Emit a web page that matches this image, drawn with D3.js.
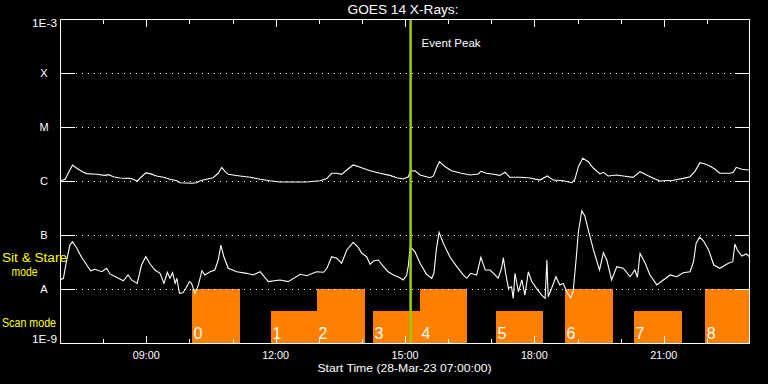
<!DOCTYPE html>
<html><head><meta charset="utf-8">
<script src="https://cdn.jsdelivr.net/npm/d3@7"></script>
<style>html,body{margin:0;padding:0;background:#000;}svg{display:block}</style>
</head><body>
<svg id="chart" width="768" height="384"></svg>
<script>
// ---------- data ----------
const chartTitle = "GOES 14 X-Rays:";
const xAxisTitle = "Start Time (28-Mar-23 07:00:00)";
const timeDomain = [7, 23];                       // hours of 28-Mar-23
const hourTicks = [8,9,10,11,12,13,14,15,16,17,18,19,20,21,22];
const labeledHours = [9, 12, 15, 18, 21];
const hourLabels = ["09:00", "12:00", "15:00", "18:00", "21:00"];
const fluxLevels = [1e-9, 1e-8, 1e-7, 1e-6, 1e-5, 1e-4, 1e-3];
const fluxLabels = ["1E-9", "A", "B", "C", "M", "X", "1E-3"];
const eventPeakHour = 15.13;
const eventLabel = "Event Peak";

const scanIds    = [0, 1, 2, 3, 4, 5, 6, 7, 8];
const scanStart  = [10.06, 11.89, 12.96, 14.26, 15.35, 17.11, 18.71, 20.31, 21.96];
const scanEnd    = [11.17, 12.96, 14.07, 15.35, 16.44, 18.20, 19.82, 21.42, 23.06];
const scanHeight = [1, 0.6, 1, 0.6, 1, 0.6, 1, 0.6, 1];

// [hour, flux W/m^2]  long channel (1-8 A)
const longChannel = [
 [7.00,1.01e-6],[7.12,1.08e-6],[7.19,1.39e-6],[7.29,1.98e-6],[7.39,1.72e-6],[7.54,1.45e-6],
 [7.62,1.37e-6],[7.85,1.33e-6],[8.04,1.27e-6],[8.12,1.31e-6],[8.24,1.20e-6],[8.39,1.14e-6],
 [8.62,1.12e-6],[8.70,1.08e-6],[8.79,0.99e-6],[8.89,1.20e-6],[8.99,1.41e-6],[9.09,1.37e-6],
 [9.24,1.24e-6],[9.40,1.17e-6],[9.55,1.08e-6],[9.71,1.01e-6],[9.78,0.93e-6],[10.05,0.91e-6],
 [10.17,0.93e-6],[10.25,1.01e-6],[10.40,1.08e-6],[10.55,1.15e-6],[10.67,1.39e-6],[10.75,1.79e-6],
 [10.83,1.49e-6],[10.90,1.33e-6],[11.17,1.24e-6],[11.41,1.17e-6],[11.64,1.08e-6],[11.87,1.01e-6],
 [12.10,0.96e-6],[12.41,0.96e-6],[12.72,0.96e-6],[13.03,1.01e-6],[13.18,1.10e-6],[13.30,1.39e-6],
 [13.42,1.39e-6],[13.53,1.33e-6],[13.65,1.60e-6],[13.80,1.98e-6],[13.96,1.79e-6],[14.19,1.55e-6],
 [14.42,1.39e-6],[14.65,1.27e-6],[14.81,1.15e-6],[14.96,1.09e-6],[15.08,1.20e-6],[15.12,1.53e-6],
 [15.23,1.55e-6],[15.35,1.29e-6],[15.58,1.15e-6],[15.66,1.24e-6],[15.74,1.84e-6],[15.80,2.28e-6],
 [15.93,1.84e-6],[16.08,1.55e-6],[16.28,1.41e-6],[16.51,1.29e-6],[16.70,1.35e-6],[16.76,1.51e-6],
 [16.89,1.39e-6],[17.05,1.33e-6],[17.20,1.27e-6],[17.32,1.45e-6],[17.43,1.17e-6],[17.67,1.17e-6],
 [17.90,1.14e-6],[18.13,1.04e-6],[18.30,1.24e-6],[18.44,1.04e-6],[18.67,1.01e-6],[18.87,0.93e-6],
 [18.94,1.08e-6],[19.02,1.84e-6],[19.12,2.63e-6],[19.25,2.28e-6],[19.37,1.72e-6],[19.52,1.35e-6],
 [19.60,1.45e-6],[19.71,1.24e-6],[19.91,1.29e-6],[20.06,1.24e-6],[20.29,1.17e-6],[20.45,1.49e-6],
 [20.60,1.29e-6],[20.76,1.12e-6],[20.91,1.00e-6],[21.22,1.03e-6],[21.45,1.12e-6],[21.61,1.20e-6],
 [21.72,1.49e-6],[21.84,2.18e-6],[21.96,2.06e-6],[22.07,1.90e-6],[22.19,1.65e-6],[22.30,1.39e-6],
 [22.54,1.39e-6],[22.61,1.45e-6],[22.68,1.79e-6],[22.81,1.65e-6],[22.96,1.60e-6],[23.00,1.60e-6]
];

// [hour, flux W/m^2]  short channel (0.5-4 A)
const shortChannel = [
 [7.00,1.47e-8],[7.08,1.58e-8],[7.14,2.99e-8],[7.23,6.5e-8],[7.29,7.5e-8],[7.39,5.7e-8],
 [7.50,3.86e-8],[7.62,2.78e-8],[7.71,2.18e-8],[7.81,2.32e-8],[7.97,2.09e-8],[8.08,2.42e-8],
 [8.16,1.90e-8],[8.31,1.65e-8],[8.47,1.42e-8],[8.58,1.82e-8],[8.66,1.47e-8],[8.79,1.27e-8],
 [8.89,2.78e-8],[8.99,3.96e-8],[9.09,2.90e-8],[9.20,2.25e-8],[9.32,1.95e-8],[9.41,1.27e-8],
 [9.49,2.04e-8],[9.55,1.58e-8],[9.61,2.00e-8],[9.67,1.27e-8],[9.71,1.58e-8],[9.77,0.83e-8],
 [9.85,0.85e-8],[9.92,1.03e-8],[10.00,1.37e-8],[10.05,1.27e-8],[10.13,0.83e-8],[10.21,1.19e-8],
 [10.29,2.18e-8],[10.36,1.82e-8],[10.48,2.09e-8],[10.59,2.25e-8],[10.67,3.44e-8],[10.73,6.5e-8],
 [10.80,3.96e-8],[10.90,2.42e-8],[11.10,2.09e-8],[11.33,1.95e-8],[11.48,1.82e-8],[11.64,2.09e-8],
 [11.83,1.37e-8],[12.10,1.47e-8],[12.29,1.37e-8],[12.57,1.87e-8],[12.72,1.76e-8],[12.95,2.09e-8],
 [13.11,2.04e-8],[13.19,2.42e-8],[13.30,3.96e-8],[13.42,3.70e-8],[13.53,2.99e-8],[13.65,5.28e-8],
 [13.80,7.33e-8],[13.92,5.82e-8],[14.00,4.58e-8],[14.11,3.96e-8],[14.19,2.87e-8],[14.27,3.30e-8],
 [14.38,3.44e-8],[14.50,2.59e-8],[14.61,2.09e-8],[14.73,1.82e-8],[14.88,1.62e-8],[14.96,1.47e-8],
 [15.04,1.82e-8],[15.08,2.78e-8],[15.12,6.07e-8],[15.23,4.91e-8],[15.35,2.99e-8],[15.50,1.87e-8],
 [15.62,1.58e-8],[15.67,1.95e-8],[15.73,5.66e-8],[15.79,1.12e-7],[15.89,7.0e-8],[16.04,3.96e-8],
 [16.20,2.59e-8],[16.35,1.82e-8],[16.43,1.58e-8],[16.52,1.95e-8],[16.66,1.82e-8],[16.76,3.86e-8],
 [16.86,2.25e-8],[16.97,2.25e-8],[17.09,1.82e-8],[17.16,1.58e-8],[17.24,2.42e-8],[17.28,3.79e-8],
 [17.34,1.82e-8],[17.40,1.03e-8],[17.47,1.10e-8],[17.51,0.67e-8],[17.55,1.95e-8],[17.63,0.89e-8],
 [17.71,1.47e-8],[17.78,0.77e-8],[17.86,2.09e-8],[17.94,1.37e-8],[18.05,1.03e-8],[18.17,0.77e-8],
 [18.25,0.67e-8],[18.29,3.44e-8],[18.32,0.72e-8],[18.40,1.03e-8],[18.50,1.69e-8],[18.59,1.19e-8],
 [18.67,1.27e-8],[18.75,0.89e-8],[18.84,0.69e-8],[18.90,0.89e-8],[18.97,3.70e-8],[19.02,1.15e-7],
 [19.10,2.81e-7],[19.17,2.25e-7],[19.25,1.24e-7],[19.37,5.3e-8],[19.51,2.25e-8],[19.60,4.70e-8],
 [19.68,3.44e-8],[19.79,1.47e-8],[19.91,2.59e-8],[20.06,2.42e-8],[20.22,1.69e-8],[20.33,2.25e-8],
 [20.39,1.65e-8],[20.45,4.58e-8],[20.57,2.99e-8],[20.68,1.82e-8],[20.84,1.19e-8],[20.99,1.47e-8],
 [21.15,1.82e-8],[21.30,1.69e-8],[21.45,2.00e-8],[21.61,2.09e-8],[21.69,3.20e-8],[21.75,7.0e-8],
 [21.83,9.1e-8],[21.92,7.8e-8],[22.04,5.3e-8],[22.16,2.78e-8],[22.30,2.42e-8],[22.50,2.99e-8],
 [22.60,3.20e-8],[22.65,6.8e-8],[22.70,5.4e-8],[22.81,4.08e-8],[22.92,4.45e-8],[23.00,3.86e-8]
];

// ---------- drawing ----------
const W = 768, H = 384;
const M = {left: 60, right: 18, top: 19, bottom: 41};
const FONT = "'Liberation Sans', Arial, sans-serif";
const svg = d3.select("#chart");
svg.append("rect").attr("width", W).attr("height", H).attr("fill", "#000");

const x = d3.scaleLinear().domain(timeDomain).range([M.left, W - M.right]);
const y = d3.scaleLog().domain([fluxLevels[0], fluxLevels[fluxLevels.length - 1]]).range([H - M.bottom, M.top]);
const scanY = d3.scaleLinear().domain([0, 1]).range([y(1e-9), y(1e-8)]);

svg.append("clipPath").attr("id", "plotClip").append("rect")
  .attr("x", M.left).attr("y", M.top)
  .attr("width", W - M.left - M.right).attr("height", H - M.top - M.bottom);

// scan-mode blocks
const scans = scanIds.map((id, i) => ({id, s: scanStart[i], e: scanEnd[i], h: scanHeight[i]}));
const gScan = svg.append("g").attr("clip-path", "url(#plotClip)");
gScan.selectAll("rect").data(scans).join("rect")
  .attr("x", d => x(d.s)).attr("width", d => x(d.e) - x(d.s))
  .attr("y", d => scanY(d.h)).attr("height", d => scanY(0) - scanY(d.h))
  .attr("fill", "#ff8000").attr("shape-rendering", "crispEdges");

// dotted class lines
const inner = fluxLevels.slice(1, -1);
svg.append("g").selectAll("line").data(inner).join("line")
  .attr("x1", M.left + 16).attr("x2", W - M.right - 14)
  .attr("y1", d => Math.round(y(d)) + 0.5).attr("y2", d => Math.round(y(d)) + 0.5)
  .attr("stroke", "#fff").attr("stroke-width", 1).attr("stroke-dasharray", "1 5");

// curves
const line = d3.line().x(d => x(d[0])).y(d => y(d[1]));
const gCurves = svg.append("g").attr("clip-path", "url(#plotClip)");
[longChannel, shortChannel].forEach(series => {
  gCurves.append("path").datum(series).attr("d", line)
    .attr("fill", "none").attr("stroke", "#fff").attr("stroke-width", 1.1)
    .attr("stroke-linejoin", "miter");
});

// event peak line
svg.append("line")
  .attr("x1", x(eventPeakHour)).attr("x2", x(eventPeakHour))
  .attr("y1", M.top).attr("y2", H - M.bottom)
  .attr("stroke", "#9acd00").attr("stroke-width", 2.5);

// frame
svg.append("rect").attr("x", M.left + 0.5).attr("y", M.top + 0.5)
  .attr("width", W - M.left - M.right - 1).attr("height", H - M.top - M.bottom)
  .attr("fill", "none").attr("stroke", "#fff").attr("stroke-width", 1)
  .attr("shape-rendering", "crispEdges");

// axes (ticks via d3 axis generators)
function tickAxis(gen, transform) {
  const g = svg.append("g").attr("transform", transform).call(gen);
  g.select(".domain").remove();
  g.selectAll("text").remove();
  g.selectAll("line").attr("stroke", "#fff").attr("shape-rendering", "crispEdges");
  return g;
}
const minorHours = hourTicks.filter(h => !labeledHours.includes(h));
tickAxis(d3.axisBottom(x).tickValues(minorHours).tickSize(-4), `translate(0,${H - M.bottom})`);
tickAxis(d3.axisBottom(x).tickValues(labeledHours).tickSize(-7), `translate(0,${H - M.bottom})`);
tickAxis(d3.axisTop(x).tickValues(minorHours).tickSize(-4), `translate(0,${M.top + 1})`);
tickAxis(d3.axisTop(x).tickValues(labeledHours).tickSize(-7), `translate(0,${M.top + 1})`);
tickAxis(d3.axisLeft(y).tickValues(inner).tickSize(-15), `translate(${M.left},0)`);
tickAxis(d3.axisRight(y).tickValues(inner).tickSize(-15), `translate(${W - M.right},0)`);

// text helper
function txt(s, px, py, o = {}) {
  const t = svg.append("text").text(s).attr("x", px).attr("y", py)
    .attr("font-family", FONT).attr("font-size", o.size || 11)
    .attr("fill", o.fill || "#fff").attr("text-anchor", o.anchor || "start");
  if (o.len) t.attr("textLength", o.len).attr("lengthAdjust", "spacingAndGlyphs");
  return t;
}

// y labels
fluxLabels.forEach((lab, i) => {
  const py = y(fluxLevels[i]);
  if (i === fluxLabels.length - 1) txt(lab, 57, py + 7.8, {anchor: "end", len: 25});
  else if (i === 0) txt(lab, 57, py, {anchor: "end", len: 25});
  else txt(lab, 44, py + 4, {anchor: "middle"});
});

// x labels
labeledHours.forEach((h, i) => txt(hourLabels[i], x(h), 359, {anchor: "middle", size: 11.5, len: 27}));
txt(xAxisTitle, 404.5, 372.3, {anchor: "middle", size: 11.5, len: 174});

// title & event label
txt(chartTitle, 403, 13.5, {anchor: "middle", size: 13, len: 111});
txt(eventLabel, x(eventPeakHour) + 11, 46.7, {size: 11, len: 59});

// scan numbers
scans.forEach(d => txt(String(d.id), x(d.s) + 1.5, 338.7, {size: 16}));

// mode labels
txt("Sit & Stare", 2, 262, {fill: "#ffff00", size: 12, len: 65});
txt("mode", 11.5, 276, {fill: "#ffff00", size: 12, len: 26});
txt("Scan mode", 2, 327.3, {fill: "#ffff00", size: 12, len: 54});
</script>
</body></html>
